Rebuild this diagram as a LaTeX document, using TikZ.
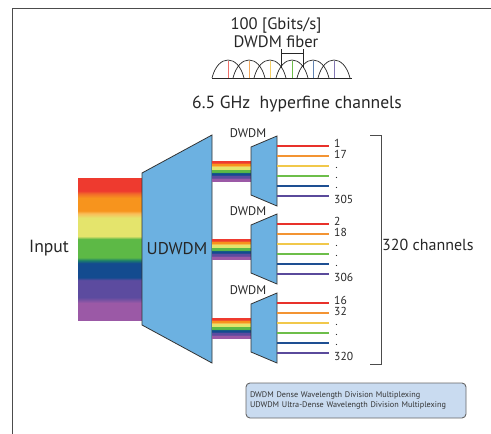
\documentclass[tikz,border=0pt]{standalone}
\usepackage{fontspec}
\setmainfont{PT Sans}
\usepackage{xcolor}
\usetikzlibrary{positioning}
\usetikzlibrary{calc}

\definecolor{muxblue}{RGB}{108,177,225}
\definecolor{keyblue}{RGB}{201,219,240}
\definecolor{chred}{RGB}{232,49,42}
\definecolor{chorange}{RGB}{243,148,51}
\definecolor{chyellow}{RGB}{241,200,75}
\definecolor{chgreen}{RGB}{109,190,74}
\definecolor{chblue}{RGB}{30,79,146}
\definecolor{chpurple}{RGB}{90,74,155}
\definecolor{rbred}{RGB}{238,58,47}
\definecolor{rbredor}{RGB}{242,106,42}
\definecolor{rborange}{RGB}{247,148,29}
\definecolor{rblight}{RGB}{249,190,90}
\definecolor{rbyellow}{RGB}{228,228,108}
\definecolor{rbgreen}{RGB}{93,185,70}
\definecolor{rbteal}{RGB}{27,127,106}
\definecolor{rbnavy}{RGB}{19,75,143}
\definecolor{rbindigo}{RGB}{92,75,159}
\definecolor{rbpurple}{RGB}{155,89,166}

\pgfdeclareverticalshading{rainbow}{100bp}{color(0bp)=(rbpurple); color(25bp)=(rbpurple); color(31bp)=(rbpurple); color(33bp)=(rbindigo); color(39bp)=(rbindigo); color(40bp)=(rbnavy); color(45bp)=(rbnavy); color(46bp)=(rbteal); color(47bp)=(rbgreen); color(53.5bp)=(rbgreen); color(54.5bp)=(rbyellow); color(61bp)=(rbyellow); color(62.5bp)=(rblight); color(63.5bp)=(rborange); color(68bp)=(rborange); color(69.5bp)=(rbredor); color(70.5bp)=(rbred); color(75bp)=(rbred); color(100bp)=(rbred)}

\tikzstyle{mux}=[fill=muxblue, draw=black!80, line width=0.8pt]
\tikzstyle{frame}=[draw=black!70, line width=0.9pt]
\tikzstyle{big}=[font=\fontsize{16}{18}\selectfont, text=black!85, inner sep=1pt]
\tikzstyle{small}=[font=\fontsize{12.5}{14}\selectfont, text=black!85, inner sep=1pt]
\tikzstyle{num}=[font=\fontsize{11.6}{13}\selectfont, text=black!85, inner sep=1pt, anchor=west]
\tikzstyle{dots}=[font=\fontsize{8}{9}\bfseries, text=black!85, inner sep=0pt, anchor=base west]
\tikzstyle{chan}=[line width=1.8pt]
\tikzstyle{legend}=[fill=keyblue, draw=black!60, line width=0.9pt, rounded corners=4pt, align=left,
  font=\fontsize{8.2}{10}\selectfont, text=black!80, text width=212pt, inner xsep=4pt, minimum height=35pt]

\begin{document}
\begin{tikzpicture}[x=1pt, y=-1pt]
    \useasboundingbox (0,0) rectangle (491,434);

    % frame
    \coordinate (fbl) at (12.5,434);
    \coordinate (ftl) at (12.5,8);
    \coordinate (ftr) at (491,8);
    \draw[frame] (fbl) -- (ftl) -- (ftr);

    % fiber spectrum
    \node[big, align=center, font=\fontsize{16.6}{18}\selectfont] (rate) at (276,33) {100 [Gbits/s]\\DWDM fiber};
    \coordinate (base0) at (212,78);
    \coordinate (base1) at (352,78);
    \draw[black!85, line width=0.7pt] (base0) -- (base1);
    \foreach \px/\col [count=\i] in {228/chred!70, 249/chorange!80, 270/chyellow!85, 292/chgreen, 313/chblue!70, 334/chpurple!75} {
      \draw[\col, line width=1pt] (\px,78) -- (\px,60.5);
      \draw[black!85, line width=0.7pt] (\px-16,78) .. controls (\px-10,54) and (\px+10,54) .. (\px+16,78);
    }
    \draw[black!85, line width=0.7pt] (281,68) -- (281,49) (303,68) -- (303,49) (281,53) -- (303,53);
    \node[big, font=\fontsize{17.6}{18}\selectfont] (hyper) at (297,104) {6.5 GHz\ \ hyperfine channels};

    % input and UDWDM
    \shade[shading=rainbow] (78,178) rectangle (142,320);
    \node[big, anchor=west, font=\fontsize{17.6}{18}\selectfont] (input) at (28,248) {Input};
    \filldraw[mux] (142,173) -- (212,135) -- (212,363) -- (142,325) -- cycle;
    \node[big, font=\fontsize{17}{18}\selectfont] (udwdm) at (177,249) {UDWDM};

    % DWDM stages
    \foreach \cy/\la/\lb/\lz [count=\g] in {171/1/17/305, 249/2/18/306, 328/16/32/320} {
      \shade[shading=rainbow] (212,\cy-10) rectangle (251,\cy+10);
      \filldraw[mux] (251,\cy-24) -- (277,\cy-35) -- (277,\cy+35) -- (251,\cy+24) -- cycle;
      \node[small] (dwdm\g) at (248,\cy-38) {DWDM};
      \foreach \col [count=\k] in {chred, chorange, chyellow, chgreen, chblue, chpurple} {
        \coordinate (out\g-\k) at (277,\cy-25+10*\k-10);
        \coordinate (end\g-\k) at (329,\cy-25+10*\k-10);
        \draw[chan, \col] (out\g-\k) -- (end\g-\k);
      }
      \node[num] (first\g) at ($(end\g-1)+(4,-3)$) {\la};
      \node[num] (second\g) at ($(end\g-2)+(4,-2)$) {\lb};
      \node[num] (last\g) at ($(end\g-6)+(4,3)$) {\lz};
      \foreach \k in {3,4,5}
        \node[dots] (dot\g-\k) at ($(end\g-\k)+(6.5,2.5)$) {.};
    }

    % channel bracket
    \coordinate (brt0) at (370,135);
    \coordinate (brt1) at (381,135);
    \coordinate (brb1) at (381,364);
    \coordinate (brb0) at (370,364);
    \draw[frame, line width=0.8pt] (brt0) -- (brt1) -- (brb1) -- (brb0);
    \node[big, anchor=west] (total) at (381,245) {320 channels};

    % legend
    \node[legend] (key) at (356,400.5) {DWDM Dense Wavelength Division Multiplexing\\UDWDM Ultra-Dense Wavelength Division Multiplexing};
\end{tikzpicture}
\end{document}
